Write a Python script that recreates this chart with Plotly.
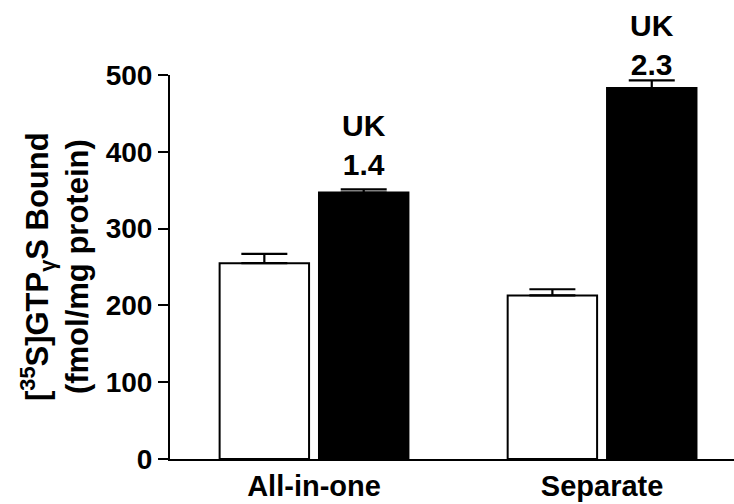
import plotly.graph_objects as go

# Data
categories = ["All-in-one", "Separate"]
basal_values = [255, 213]
basal_errors = [12, 8]
uk_values = [347, 483]
uk_errors = [4, 10]
y_ticks = [0, 100, 200, 300, 400, 500]

FONT = "Liberation Sans, Arial, Helvetica, sans-serif"
BARGAP = 0.31
BARGROUPGAP = 0.1
WIDTH, HEIGHT = 734, 504
MARGIN = dict(l=170, r=0, t=75, b=45)
LABEL_SHIFTS = [6, -3]

fig = go.Figure()
fig.add_trace(go.Bar(
    x=categories, y=basal_values,
    marker=dict(color="white", line=dict(color="black", width=2)),
    error_y=dict(type="data", array=basal_errors, symmetric=False,
                 arrayminus=[0] * len(basal_errors),
                 color="black", thickness=2.2, width=23),
    showlegend=False,
))
fig.add_trace(go.Bar(
    x=categories, y=uk_values,
    marker=dict(color="black", line=dict(color="black", width=2)),
    error_y=dict(type="data", array=uk_errors, symmetric=False,
                 arrayminus=[0] * len(uk_errors),
                 color="black", thickness=2.2, width=23),
    showlegend=False,
))

# "UK" label with fold stimulation (UK / basal) above each black bar
slot = (1 - BARGAP) / 2
for i, (b, u, e) in enumerate(zip(basal_values, uk_values, uk_errors)):
    fig.add_annotation(
        x=i + slot / 2, y=u + e, xref="x", yref="y",
        text=f"UK<br>{u / b:.1f}", showarrow=False,
        xanchor="center", yanchor="bottom", yshift=LABEL_SHIFTS[i],
        font=dict(family=FONT, size=30, color="black", weight="bold"),
    )

# Y-axis title, placed left of the tick labels
plot_w = WIDTH - MARGIN["l"] - MARGIN["r"]
fig.add_annotation(
    x=(55 - MARGIN["l"]) / plot_w, y=0.5, xref="paper", yref="paper",
    text="[<sup>35</sup>S]GTP<sub>γ</sub>S Bound<br>(fmol/mg protein)",
    showarrow=False, textangle=-90, xanchor="center", yanchor="middle",
    font=dict(family=FONT, size=31, color="black", weight="bold"),
)

fig.update_layout(
    width=WIDTH, height=HEIGHT,
    margin=MARGIN,
    paper_bgcolor="white", plot_bgcolor="white",
    barmode="group", bargap=BARGAP, bargroupgap=BARGROUPGAP,
    font=dict(family=FONT, color="black", weight="bold"),
    xaxis=dict(
        type="category", range=[-0.5, 1.458],
        showline=True, linecolor="black", linewidth=2,
        ticks="", showgrid=False, zeroline=False,
        tickfont=dict(family=FONT, size=29, color="black", weight="bold"),
    ),
    yaxis=dict(
        range=[0, 500], tickvals=y_ticks,
        showline=True, linecolor="black", linewidth=2,
        ticks="outside", ticklen=10, tickwidth=2, tickcolor="black",
        showgrid=False, zeroline=False,
        tickfont=dict(family=FONT, size=28, color="black", weight="bold"),
    ),
)

fig.write_html("out.html")
